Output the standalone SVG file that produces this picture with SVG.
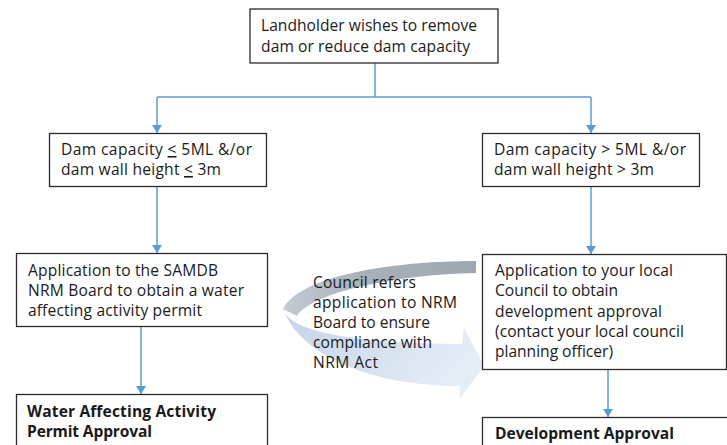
<svg xmlns="http://www.w3.org/2000/svg" width="727" height="445" viewBox="0 0 727 445">
<defs>
<style>
.box{fill:#fff;stroke:#2b2b2b;stroke-width:1.3}
.t{font-family:"Open Sans","Noto Sans","DejaVu Sans",sans-serif;font-size:15.6px;fill:#1a1a1a}
.b{font-weight:bold}
.c{fill:none;stroke:#5b9bd5;stroke-width:1.5}
</style>
<marker id="ah" viewBox="0 0 8 10" refX="8" refY="5" markerWidth="8" markerHeight="10" markerUnits="userSpaceOnUse" orient="auto">
<path d="M0,0 L8,5 L0,10 Z" fill="#5b9bd5"/>
</marker>
<linearGradient id="gBack" x1="0" y1="0" x2="1" y2="0">
<stop offset="0" stop-color="#c3cad3"/>
<stop offset="0.4" stop-color="#a9b1ba"/>
<stop offset="1" stop-color="#9ea6af"/>
</linearGradient>
<linearGradient id="gFront" x1="0" y1="0" x2="1" y2="0.4">
<stop offset="0" stop-color="#c4d4e8"/>
<stop offset="1" stop-color="#e4ecf6"/>
</linearGradient>
</defs>

<g id="curved-arrow">
<path d="M476,261 C390,261 300,276 283,309 L297,316 C312,292 400,274 476,273 Z" fill="url(#gBack)"/>
<path d="M283,309 C290,333 360,343 462,344 L464,328 L484,366 L460,398 L460,386 C370,386 300,355 283,309 Z" fill="url(#gFront)"/>
</g>

<g id="connectors">
<path class="c" d="M375,63 V97"/>
<path class="c" d="M157,97 H591"/>
<path class="c" d="M157,97 V133" marker-end="url(#ah)"/>
<path class="c" d="M591,97 V133" marker-end="url(#ah)"/>
<path class="c" d="M157,186 V253" marker-end="url(#ah)"/>
<path class="c" d="M591,186 V254" marker-end="url(#ah)"/>
<path class="c" d="M141,326 V394" marker-end="url(#ah)"/>
<path class="c" d="M608,369 V417" marker-end="url(#ah)"/>
</g>

<g id="n-start">
<rect class="box" x="250" y="9" width="248" height="54"/>
<text class="t" x="261" y="31" textLength="216" lengthAdjust="spacing">Landholder wishes to remove</text>
<text class="t" x="261" y="52" textLength="209" lengthAdjust="spacing">dam or reduce dam capacity</text>
</g>

<g id="n-small">
<rect class="box" x="49.5" y="133.5" width="217" height="53"/>
<text class="t" x="61" y="155" textLength="191" lengthAdjust="spacing">Dam capacity <tspan text-decoration="underline">&lt;</tspan> 5ML &amp;/or</text>
<text class="t" x="61" y="175" textLength="160" lengthAdjust="spacing">dam wall height <tspan text-decoration="underline">&lt;</tspan> 3m</text>
</g>

<g id="n-large">
<rect class="box" x="482.5" y="133.5" width="217" height="53"/>
<text class="t" x="494" y="155" textLength="192" lengthAdjust="spacing">Dam capacity &gt; 5ML &amp;/or</text>
<text class="t" x="494" y="175" textLength="160" lengthAdjust="spacing">dam wall height &gt; 3m</text>
</g>

<g id="n-nrm-app">
<rect class="box" x="16.5" y="253.5" width="251" height="73"/>
<text class="t" x="28" y="276" textLength="190" lengthAdjust="spacing">Application to the SAMDB</text>
<text class="t" x="28" y="296" textLength="216" lengthAdjust="spacing">NRM Board to obtain a water</text>
<text class="t" x="28" y="316" textLength="174" lengthAdjust="spacing">affecting activity permit</text>
</g>

<g id="n-council-app">
<rect class="box" x="482.5" y="254.5" width="244" height="115"/>
<text class="t" x="495" y="276" textLength="178" lengthAdjust="spacing">Application to your local</text>
<text class="t" x="495" y="296" textLength="123" lengthAdjust="spacing">Council to obtain</text>
<text class="t" x="495" y="316.5" textLength="167" lengthAdjust="spacing">development approval</text>
<text class="t" x="495" y="337" textLength="189" lengthAdjust="spacing">(contact your local council</text>
<text class="t" x="495" y="357" textLength="118" lengthAdjust="spacing">planning officer)</text>
</g>

<g id="referral-label">
<text class="t" x="313" y="288" textLength="103" lengthAdjust="spacing">Council refers</text>
<text class="t" x="313" y="308" textLength="144" lengthAdjust="spacing">application to NRM</text>
<text class="t" x="313" y="328" textLength="117" lengthAdjust="spacing">Board to ensure</text>
<text class="t" x="313" y="348" textLength="119" lengthAdjust="spacing">compliance with</text>
<text class="t" x="313" y="368" textLength="65" lengthAdjust="spacing">NRM Act</text>
</g>

<g id="n-permit">
<rect class="box" x="16.5" y="394.5" width="251" height="60"/>
<text class="t b" x="27" y="417" textLength="189" lengthAdjust="spacing">Water Affecting Activity</text>
<text class="t b" x="27" y="437" textLength="125" lengthAdjust="spacing">Permit Approval</text>
</g>

<g id="n-dev">
<rect class="box" x="482.5" y="417.5" width="250" height="40"/>
<text class="t b" x="495" y="439" textLength="179" lengthAdjust="spacing">Development Approval</text>
</g>
</svg>
